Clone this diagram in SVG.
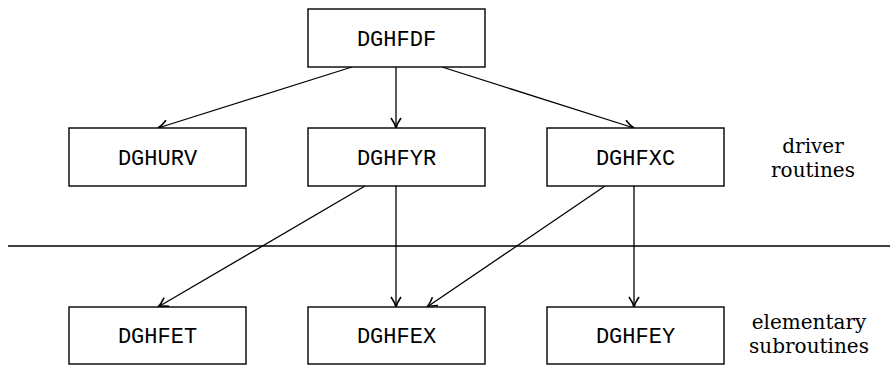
<svg xmlns="http://www.w3.org/2000/svg" width="890" height="365" viewBox="0 0 890 365">
<style>
.box{fill:#fff;stroke:#000;stroke-width:1.4}
.lbl{font-family:"Liberation Mono","DejaVu Sans Mono",monospace;font-size:22px;text-anchor:middle;fill:#000}
.side{font-family:"DejaVu Serif","Liberation Serif",serif;font-size:20px;text-anchor:middle;fill:#000}
.edge{stroke:#000;stroke-width:1.3;fill:none;marker-end:url(#arr)}
</style>
<defs>
<marker id="arr" markerUnits="userSpaceOnUse" markerWidth="14" markerHeight="12" viewBox="-11 -6 12 12" refX="0" refY="0" orient="auto">
<path d="M-10,-5 C-6,-2.2 -3,-0.7 0,0 C-3,0.7 -6,2.2 -10,5" stroke="#000" stroke-width="1.6" fill="none"/>
</marker>
</defs>
<rect width="890" height="365" fill="#fff"/>
<g id="connectors">
<line class="edge" x1="352" y1="67" x2="158" y2="128"/>
<line class="edge" x1="396" y1="67" x2="396" y2="128"/>
<line class="edge" x1="442" y1="67" x2="634" y2="128"/>
<line class="edge" x1="365" y1="186" x2="158" y2="307"/>
<line class="edge" x1="396" y1="186" x2="396" y2="307"/>
<line class="edge" x1="605" y1="186" x2="427" y2="307"/>
<line class="edge" x1="634" y1="186" x2="634" y2="307"/>
</g>
<line id="divider" x1="8" y1="246" x2="890" y2="246" stroke="#000" stroke-width="1.4"/>
<g id="DGHFDF"><rect class="box" x="308" y="9" width="177" height="58"/><text class="lbl" x="396.5" y="46">DGHFDF</text></g>
<g id="DGHURV"><rect class="box" x="69" y="128" width="177" height="58"/><text class="lbl" x="157.5" y="165">DGHURV</text></g>
<g id="DGHFYR"><rect class="box" x="308" y="128" width="177" height="58"/><text class="lbl" x="396.5" y="165">DGHFYR</text></g>
<g id="DGHFXC"><rect class="box" x="547" y="128" width="177" height="58"/><text class="lbl" x="635.5" y="165">DGHFXC</text></g>
<g id="DGHFET"><rect class="box" x="69" y="307" width="177" height="57"/><text class="lbl" x="157.5" y="343">DGHFET</text></g>
<g id="DGHFEX"><rect class="box" x="308" y="307" width="177" height="57"/><text class="lbl" x="396.5" y="343">DGHFEX</text></g>
<g id="DGHFEY"><rect class="box" x="547" y="307" width="177" height="57"/><text class="lbl" x="635.5" y="343">DGHFEY</text></g>
<g id="labels">
<text class="side" x="813" y="153">driver</text>
<text class="side" x="813" y="177">routines</text>
<text class="side" x="809" y="329">elementary</text>
<text class="side" x="809" y="353">subroutines</text>
</g>
</svg>
